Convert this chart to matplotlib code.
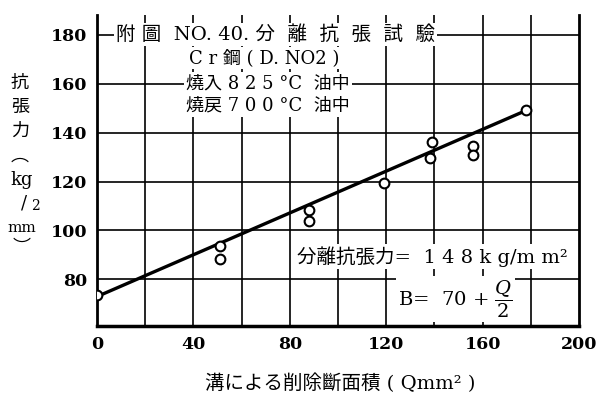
import matplotlib
matplotlib.use("Agg")
import matplotlib.pyplot as plt

# data
q_area = [0, 51, 51, 88, 88, 119, 139, 138, 156, 156, 178]
strength = [73.5, 93.5, 88.5, 108.5, 104, 119.5, 136.3, 129.8, 134.3, 131, 149]
fit_x = [0, 178]
fit_y = [73, 149]
x_ticks = [0, 40, 80, 120, 160, 200]
y_ticks = [80, 100, 120, 140, 160, 180]

plt.rcParams['mathtext.fontset'] = 'dejavuserif'
jp = ['DejaVu Serif', 'Noto Sans CJK JP']
num_font = dict(family='DejaVu Serif', weight='bold', size=12.5)

fig = plt.figure(figsize=(6.02, 3.94), dpi=100)
ax = fig.add_axes([0.161, 0.1726, 0.801, 0.7894])
ax.set_xlim(0, 200)
ax.set_ylim(61, 188)

# grid every 20
for gx in range(20, 200, 20):
    ax.axvline(gx, color='black', lw=1.2, zorder=1)
for gy in range(80, 181, 20):
    ax.axhline(gy, color='black', lw=1.2, zorder=1)

ax.plot(fit_x, fit_y, color='black', lw=2.4, zorder=3)
ax.plot(q_area, strength, 'o', ms=7, mfc='white', mec='black', mew=1.5, zorder=4)

ax.spines['top'].set_visible(False)
for s in ['left', 'right']:
    ax.spines[s].set_linewidth(2)
ax.spines['bottom'].set_linewidth(2.5)

ax.set_xticks(x_ticks)
ax.set_yticks(y_ticks)
ax.set_xticklabels([str(v) for v in x_ticks], fontdict=num_font)
ax.set_yticklabels([str(v) for v in y_ticks], fontdict=num_font)
ax.tick_params(length=0, pad=7)

box = dict(facecolor='white', edgecolor='none', pad=1.5)
ax.text(8, 180, '附 圖  NO. 40. 分  離  抗  張  試  驗', family=jp, fontsize=14,
        va='center', ha='left', bbox=box, zorder=5)
ax.text(38, 170.5, 'C r 鋼 ( D. NO2 )', family=jp, fontsize=13,
        va='center', ha='left', bbox=box, zorder=5)
ax.text(37, 160, '燒入 8 2 5 °C  油中', family=jp, fontsize=13,
        va='center', ha='left', bbox=box, zorder=5)
ax.text(37, 151, '燒戻 7 0 0 °C  油中', family=jp, fontsize=13,
        va='center', ha='left', bbox=box, zorder=5)
ax.text(83, 89.5, '分離抗張力=  1 4 8 k g/m m²', family=jp, fontsize=14,
        va='center', ha='left', bbox=box, zorder=5)
ax.text(125, 72, r'B=  70 + $\dfrac{Q}{2}$', family='DejaVu Serif', fontsize=14,
        va='center', ha='left', bbox=box, zorder=5)

# vertical y-axis label
W, H = 602, 394
for txt, px, py, size in [('抗', 20, 83, 13), ('張', 20, 107, 13), ('力', 20, 131, 13),
                          ('︵', 20, 156, 13), ('kg', 22, 180, 13), ('/', 24, 204, 13),
                          ('2', 35, 206, 10), ('mm', 22, 228, 11), ('︶', 22, 248, 13)]:
    fig.text(px / W, 1 - py / H, txt, family=jp, fontsize=size,
             ha='center', va='center')

fig.text(340 / W, 1 - 383 / H, '溝による削除斷面積 ( Qmm² )', family=jp, fontsize=14,
         ha='center', va='center')

fig.savefig('out.png', dpi=100)
